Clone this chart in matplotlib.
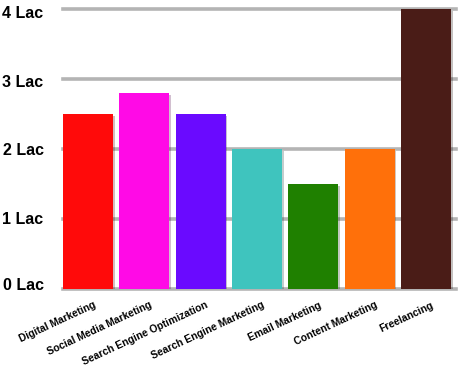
import matplotlib.pyplot as plt
import matplotlib.patheffects as pe
import matplotlib.transforms as mtransforms

categories = ["Digital Marketing", "Social Media Marketing", "Search Engine Optimization",
              "Search Engine Marketing", "Email Marketing", "Content Marketing", "Freelancing"]
values = [2.5, 2.8, 2.5, 2.0, 1.5, 2.0, 4.0]
colors = ["#ff0a0a", "#ff0ae6", "#6a0aff", "#3fc4be", "#1f8000", "#ff700a", "#4a1c17"]
ytick_vals = [0, 1, 2, 3, 4]
ytick_labels = ["0 Lac", "1 Lac", "2 Lac", "3 Lac", "4 Lac"]


def main():
    plt.rcParams['font.family'] = ['Liberation Sans', 'DejaVu Sans']
    fig = plt.figure(figsize=(4.6, 3.71), dpi=100)
    ax = fig.add_axes([0.137, 0.221, 0.854, 0.764])

    # grid lines behind bars
    for v in ytick_vals:
        ax.axhline(v, color="#b4b4b4", lw=2.6, zorder=1, clip_on=False)

    xs = list(range(len(categories)))
    bars = ax.bar(xs, values, width=0.89, color=colors, zorder=2, linewidth=0)
    for b in bars:
        b.set_path_effects([pe.SimplePatchShadow(offset=(1.2, -1.2), alpha=0.25), pe.Normal()])

    ax.set_xlim(-0.445, 6.53)
    ax.set_ylim(0, 4.05)
    ax.set_yticks(ytick_vals)
    ax.set_yticklabels(ytick_labels, fontsize=11.5, fontweight="bold")
    ax.set_xticks(xs)
    ax.set_xticklabels(categories, fontsize=7.4, fontweight="bold", rotation=25,
                       ha="right", va="top", rotation_mode="anchor")
    ax.tick_params(axis="y", length=0, pad=14)
    ax.tick_params(axis="x", length=0, pad=8)
    for s in ax.spines.values():
        s.set_visible(False)

    # nudge labels a bit like the original
    shift = mtransforms.ScaledTranslation(5 / 100, 0, fig.dpi_scale_trans)
    for lab in ax.get_xticklabels():
        lab.set_transform(lab.get_transform() + shift)
    y_nudge = [5, 1, 0, -2, -3]
    for lab, dy in zip(ax.get_yticklabels(), y_nudge):
        lab.set_transform(lab.get_transform() + mtransforms.ScaledTranslation(0, dy / 100, fig.dpi_scale_trans))

    plt.savefig("out.png", dpi=100)


if __name__ == "__main__":
    main()
